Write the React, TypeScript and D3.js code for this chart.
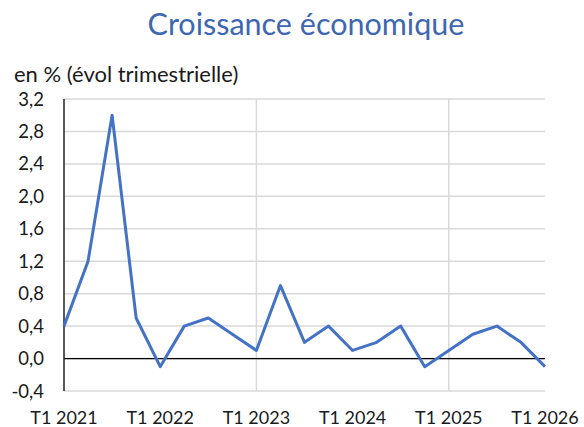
import React from "react";
import * as d3 from "d3";

const quarters: string[] = [
  "T1 2021", "T2 2021", "T3 2021", "T4 2021",
  "T1 2022", "T2 2022", "T3 2022", "T4 2022",
  "T1 2023", "T2 2023", "T3 2023", "T4 2023",
  "T1 2024", "T2 2024", "T3 2024", "T4 2024",
  "T1 2025", "T2 2025", "T3 2025", "T4 2025",
  "T1 2026",
];
const growth: number[] = [
  0.4, 1.2, 3.0, 0.5,
  -0.1, 0.4, 0.5, 0.3,
  0.1, 0.9, 0.2, 0.4,
  0.1, 0.2, 0.4, -0.1,
  0.1, 0.3, 0.4, 0.2,
  -0.1,
];
const yTicks: number[] = [-0.4, 0, 0.4, 0.8, 1.2, 1.6, 2.0, 2.4, 2.8, 3.2];
const xLabelIdx: number[] = [0, 4, 8, 12, 16, 20];
const xGridIdx: number[] = [8, 16];

const W = 584, H = 427;
const FONT = "Lato, 'Open Sans', sans-serif";

export default function App() {
  const x = d3.scaleLinear().domain([0, quarters.length - 1]).range([64, 545]);
  const y = d3.scaleLinear().domain([-0.4, 3.2]).range([391, 99]);
  const line = d3.line<number>().x((_, i) => x(i)).y((d) => y(d));
  const fmt = (v: number) => v.toFixed(1).replace(".", ",");
  return (
    <svg width={W} height={H} style={{ position: "absolute", left: 0, top: 0, background: "#fff" }}>
      <text x={306} y={35} textAnchor="middle" fontFamily={FONT} fontSize={30.5} fill="#3E67B1">
        Croissance économique
      </text>
      <text x={14} y={82} fontFamily={FONT} fontSize={22} fill="#1a1a1a">
        en % (évol trimestrielle)
      </text>
      {yTicks.map((t) => (
        <line key={"g" + t} x1={64} x2={545} y1={y(t)} y2={y(t)} stroke="#d9d9d9" strokeWidth={1.5} />
      ))}
      {xGridIdx.map((i) => (
        <line key={"v" + i} x1={x(i)} x2={x(i)} y1={y(3.2)} y2={y(-0.4)} stroke="#d9d9d9" strokeWidth={1.5} />
      ))}
      <line x1={64} x2={545} y1={y(0)} y2={y(0)} stroke="#000" strokeWidth={1.3} />
      <line x1={64} x2={64} y1={y(3.2)} y2={y(-0.4)} stroke="#222" strokeWidth={1.5} />
      {yTicks.map((t) => (
        <text key={"t" + t} x={44} y={y(t) + 6.5} textAnchor="end" fontFamily={FONT} fontSize={18.5} fill="#1a1a1a">
          {fmt(t)}
        </text>
      ))}
      {xLabelIdx.map((i) => (
        <text key={"x" + i} x={x(i)} y={424} textAnchor="middle" fontFamily={FONT} fontSize={18} fill="#1a1a1a">
          {quarters[i]}
        </text>
      ))}
      <path d={line(growth) ?? ""} fill="none" stroke="#4472C4" strokeWidth={3} strokeLinejoin="round" />
    </svg>
  );
}
